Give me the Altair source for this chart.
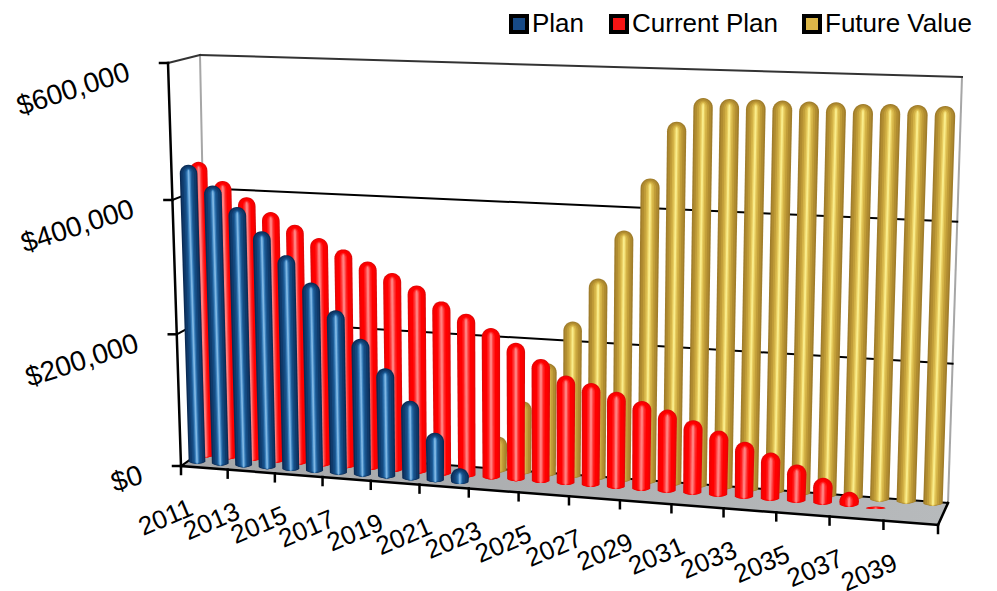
import math
import altair as alt
import pandas as pd

# Dollar balances per year; missing trailing or leading years draw no column.
first_year = 2011
plan_values = [450000, 421000, 391000, 357000, 323500, 285000, 246000, 206000, 164500, 119000, 74000, 23700]
current_values = [449000, 422000, 399500, 379000, 362000, 344000, 329000, 313000, 298000, 281500, 260000, 244000,
                  225000, 205500, 184000, 162000, 153500, 143000, 132000, 122000, 109000, 96500, 83000, 70000,
                  55500, 39000, 21600, 3100]
future_start = 2023
future_values = [54500, 110000, 169000, 233000, 298000, 369500, 446000, 528000, 562500, 562500, 563000, 562500,
                 562500, 562500, 561500, 562500, 562500, 562500]
axis_max = 600000
y_ticks = [0, 200000, 400000, 600000]
y_tick_labels = ["$0", "$200,000", "$400,000", "$600,000"]
label_years = list(range(2011, 2040, 2))
n_years = 30

W, H = 997, 591
FONT = "Liberation Sans"

# Corners of the 3-D box on screen, indexed (across, depth, height).
CORNERS = {
    (0, 0, 0): (181, 466), (0, 0, 1): (168, 63),
    (0, 1, 0): (208, 447), (0, 1, 1): (200, 55),
    (1, 0, 0): (938, 525), (1, 0, 1): (950, 88),
    (1, 1, 0): (948, 503), (1, 1, 1): (962, 77),
}
PERSPECTIVE = 1.087
HEIGHT_PERSPECTIVE = 1.03
COLUMN_HALF_WIDTH = 0.37


def project(t, d, h):
    """Map across (0-1), depth (0-1) and height (0-1) to screen coordinates."""
    u = t / (t + PERSPECTIVE * (1 - t))
    v = h / (h + HEIGHT_PERSPECTIVE * (1 - h))
    px = py = 0.0
    for (a, b, c), (cx, cy) in CORNERS.items():
        w = (u if a else 1 - u) * (d if b else 1 - d) * (v if c else 1 - v)
        px += w * cx
        py += w * cy
    return px, py


def year_t(year, shift=0.0):
    return (year - first_year + 0.5 + shift) / n_years


def column_ring(year, value, depth, f):
    """Outline of one shading band of a round-topped column."""
    t = year_t(year)
    h_top = value / axis_max
    _, y_base = project(t, depth, 0)
    _, y_top = project(t, depth, h_top)
    xl, _ = project(year_t(year, -COLUMN_HALF_WIDTH), depth, h_top)
    xr, _ = project(year_t(year, COLUMN_HALF_WIDTH), depth, h_top)
    x_foot, _ = project(t, depth, 0)
    x_head, _ = project(t, depth, h_top)
    height = y_base - y_top
    r = (xr - xl) / 2
    dome = min(r, height * 0.75)
    foot = min(3.0, height * 0.25)
    g = 0.35 + 0.65 * f
    y_c = y_top + dome
    profile = []
    for k in range(8):
        a = k / 7 * math.pi / 2
        profile.append((y_c - dome * g * math.cos(a), f * r * math.sin(a)))
    y_f = y_base - foot
    for k in range(1, 6):
        a = k / 5 * math.pi / 2
        profile.append((y_f + foot * math.sin(a), f * r * math.cos(a)))
    rows = []
    for y, hw in profile:
        cx = x_foot + (x_head - x_foot) * (y_base - y) / height
        rows.append({"year": year, "sy": y, "x0": cx - hw, "x1": cx + hw})
    return rows


scr_x = alt.Scale(domain=[0, W], range=[0, W])
scr_y = alt.Scale(domain=[0, H], range=[0, H])


def column_layers(years, values, depth, bands):
    out = []
    for f, colour in bands:
        rows = []
        for yr, v in zip(years, values):
            rows.extend(column_ring(yr, v, depth, f))
        out.append(
            alt.Chart(pd.DataFrame(rows))
            .mark_area(orient="horizontal", color=colour, interpolate="linear")
            .encode(
                y=alt.Y("sy:Q", scale=scr_y, axis=None),
                x=alt.X("x0:Q", scale=scr_x, axis=None),
                x2="x1:Q",
                detail="year:O",
            )
        )
    return out


def segment(p0, p1, colour, width):
    df = pd.DataFrame({"sx": [p0[0], p1[0]], "sy": [p0[1], p1[1]], "step": [0, 1]})
    return (
        alt.Chart(df)
        .mark_line(color=colour, strokeWidth=width, strokeCap="square")
        .encode(x=alt.X("sx:Q", scale=scr_x, axis=None), y=alt.Y("sy:Q", scale=scr_y, axis=None), order="step:Q")
    )


# Floor of the box, built as an area between its back and front edges.
fl, bl, fr, br = project(0, 0, 0), project(0, 1, 0), project(1, 0, 0), project(1, 1, 0)


def edge_y(a, b, x):
    return a[1] + (b[1] - a[1]) * (x - a[0]) / (b[0] - a[0])


floor_df = pd.DataFrame({
    "sx": [fl[0], bl[0], fr[0], br[0]],
    "back": [fl[1], bl[1], edge_y(bl, br, fr[0]), br[1]],
    "front": [fl[1], edge_y(fl, fr, bl[0]), fr[1], br[1]],
})
floor = (
    alt.Chart(floor_df)
    .mark_area(
        interpolate="linear",
        color=alt.LinearGradient(
            gradient="linear", x1=0, x2=1, y1=0, y2=0,
            stops=[alt.GradientStop(offset=0, color="#a6a7a9"), alt.GradientStop(offset=1, color="#b7babc")],
        ),
    )
    .encode(x=alt.X("sx:Q", scale=scr_x, axis=None), y=alt.Y("back:Q", scale=scr_y, axis=None), y2="front:Q")
)

frame = [floor]
frame.append(segment(project(0, 1, 0), project(0, 1, 1), "#a6a6a6", 2))
frame.append(segment(project(1, 1, 0), project(1, 1, 1), "#a6a6a6", 2))
for tick in y_ticks:
    h = tick / axis_max
    colour = "#333333" if tick == axis_max else "#000000"
    frame.append(segment(project(0, 1, h), project(1, 1, h), colour, 2))
    frame.append(segment(project(0, 0, h), project(0, 1, h), colour, 2))
    ax = project(0, 0, h)
    frame.append(segment((ax[0] - 8, ax[1]), ax, "#000000", 2.5))
frame.append(segment(project(0, 0, 0), project(0, 0, 1), "#000000", 2.5))
frame.append(segment(project(0, 0, 0), project(1, 0, 0), "#000000", 2.5))
frame.append(segment(project(1, 0, 0), project(1, 1, 0), "#000000", 2.5))
for k in range(0, n_years + 1, 2):
    p = project(k / n_years, 0, 0)
    frame.append(segment(p, (p[0], p[1] + 8), "#000000", 2.5))

# Axis texts are tilted with the box, so they are drawn as text marks.
year_label_df = pd.DataFrame([
    {"label": str(yr), "sx": project(year_t(yr), 0, 0)[0] - 1, "sy": project(year_t(yr), 0, 0)[1] + 40}
    for yr in label_years
])
year_labels = (
    alt.Chart(year_label_df)
    .mark_text(font=FONT, fontSize=26, angle=337, align="right", baseline="middle", color="#000000")
    .encode(x=alt.X("sx:Q", scale=scr_x, axis=None), y=alt.Y("sy:Q", scale=scr_y, axis=None), text="label:N")
)
value_label_df = pd.DataFrame([
    {
        "label": lab,
        "sx": project(0, 0, tick / axis_max)[0] - 39,
        "sy": project(0, 0, tick / axis_max)[1] + 9,
    }
    for tick, lab in zip(y_ticks, y_tick_labels)
])
value_labels = (
    alt.Chart(value_label_df)
    .mark_text(font=FONT, fontSize=28, angle=342, align="right", baseline="middle", color="#000000")
    .encode(x=alt.X("sx:Q", scale=scr_x, axis=None), y=alt.Y("sy:Q", scale=scr_y, axis=None), text="label:N")
)

blue_bands = [(1.0, "#0b2b54"), (0.84, "#0f3a6b"), (0.6, "#14497f"), (0.4, "#1d5b96"), (0.24, "#3f84bf"), (0.1, "#7db6e4")]
red_bands = [(1.0, "#e00808"), (0.88, "#f50202"), (0.72, "#ff0000"), (0.42, "#ff1c1c"), (0.26, "#ff4a4a"), (0.12, "#ff8080")]
gold_bands = [(1.0, "#a07d2b"), (0.84, "#b08c30"), (0.62, "#c19d38"), (0.42, "#d4b347"), (0.24, "#e8cd60"), (0.1, "#f9ec8a")]

gold = column_layers(range(future_start, future_start + len(future_values)), future_values, 5 / 6, gold_bands)
red = column_layers(range(first_year, first_year + len(current_values)), current_values, 1 / 2, red_bands)
blue = column_layers(range(first_year, first_year + len(plan_values)), plan_values, 1 / 6, blue_bands)

# Invisible points that exist only to carry the legend.
series_names = ["Plan", "Current Plan", "Future Value"]
series_fill = ["#174a86", "#f51414", "#dcb648"]
legend_layer = (
    alt.Chart(pd.DataFrame({"series": series_names, "sx": [0, 0, 0], "sy": [0, 0, 0]}))
    .mark_square(opacity=0)
    .encode(
        x=alt.X("sx:Q", scale=scr_x, axis=None),
        y=alt.Y("sy:Q", scale=scr_y, axis=None),
        color=alt.Color(
            "series:N",
            scale=alt.Scale(domain=series_names, range=series_fill),
            legend=alt.Legend(
                title=None,
                orient="none",
                legendX=506,
                legendY=11,
                direction="horizontal",
                symbolType="square",
                symbolSize=256,
                symbolOpacity=1,
                symbolStrokeColor="#000000",
                symbolStrokeWidth=4,
                labelFont=FONT,
                labelFontSize=26,
                labelColor="#000000",
                labelOffset=0,
                columnPadding=18,
                padding=0,
            ),
        ),
    )
)

chart = (
    alt.layer(*frame, *gold, *red, *blue, year_labels, value_labels, legend_layer)
    .properties(width=W, height=H, padding=0, autosize=alt.AutoSizeParams(type="none"), background="#ffffff")
    .configure_view(stroke=None)
)

chart.save("out.html", embed_options={"renderer": "svg", "actions": False})
